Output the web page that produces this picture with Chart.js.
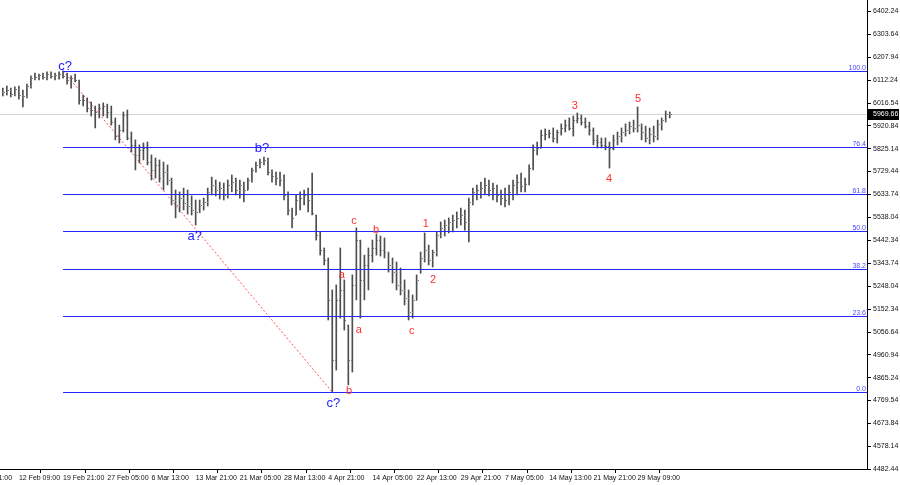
<!DOCTYPE html>
<html>
<head>
<meta charset="utf-8">
<script src="https://cdn.jsdelivr.net/npm/chart.js@4.4.1/dist/chart.umd.min.js"></script>
<style>
  html, body { margin: 0; padding: 0; background: #fff; }
</style>
</head>
<body>
<canvas id="chart" width="900" height="485"></canvas>
<script>
// H4 bars, one entry per bar (price)
const highs = [
  6079, 6088, 6079, 6084, 6088, 6071, 6096, 6130, 6142, 6138,
  6142, 6147, 6147, 6142, 6147, 6151, 6142, 6130, 6138, 6113,
  6050, 6038, 6021, 6004, 6012, 6017, 6012, 6004, 5954, 5924,
  5979, 5987, 5895, 5862, 5841, 5849, 5853, 5799, 5786, 5778,
  5769, 5757, 5702, 5652, 5644, 5660, 5652, 5627, 5610, 5610,
  5618, 5660, 5706, 5694, 5685, 5681, 5694, 5715, 5702, 5694,
  5685, 5702, 5744, 5769, 5782, 5790, 5786, 5736, 5727, 5727,
  5715, 5644, 5576, 5631, 5644, 5652, 5660, 5723, 5547, 5476,
  5409, 5367, 5233, 5254, 5409, 5275, 5086, 5296, 5493, 5442,
  5379, 5409, 5442, 5468, 5459, 5451, 5392, 5367, 5350, 5325,
  5275, 5233, 5212, 5296, 5392, 5472, 5421, 5400, 5476, 5518,
  5526, 5535, 5547, 5560, 5576, 5568, 5618, 5660, 5673, 5685,
  5702, 5694, 5681, 5673, 5652, 5660, 5673, 5694, 5715, 5723,
  5702, 5757, 5841, 5853, 5903, 5908, 5903, 5912, 5903, 5929,
  5945, 5954, 5962, 5975, 5966, 5954, 5937, 5912, 5882, 5870,
  5870, 5853, 5882, 5895, 5912, 5929, 5937, 5945, 6000, 5929,
  5920, 5912, 5920, 5945, 5954, 5983, 5979
];
const lows = [
  6046, 6050, 6042, 6046, 6033, 6000, 6038, 6079, 6113, 6113,
  6117, 6113, 6121, 6113, 6117, 6121, 6096, 6079, 6105, 6012,
  6004, 5979, 5962, 5912, 5954, 5962, 5954, 5924, 5862, 5849,
  5895, 5862, 5811, 5736, 5765, 5778, 5757, 5694, 5702, 5685,
  5652, 5673, 5589, 5535, 5560, 5568, 5551, 5547, 5505, 5556,
  5568, 5585, 5631, 5627, 5614, 5610, 5618, 5644, 5631, 5618,
  5602, 5652, 5685, 5727, 5744, 5757, 5715, 5685, 5673, 5669,
  5610, 5547, 5493, 5547, 5568, 5589, 5560, 5547, 5442, 5379,
  5338, 5107, 4805, 4897, 5115, 5065, 4835, 4889, 5191, 5115,
  5191, 5233, 5350, 5379, 5375, 5367, 5308, 5262, 5233, 5212,
  5170, 5107, 5115, 5191, 5304, 5350, 5338, 5329, 5375, 5451,
  5459, 5472, 5476, 5493, 5505, 5484, 5434, 5589, 5610, 5618,
  5631, 5627, 5610, 5602, 5589, 5581, 5589, 5610, 5631, 5644,
  5644, 5673, 5736, 5799, 5828, 5862, 5870, 5853, 5849, 5882,
  5895, 5903, 5878, 5933, 5924, 5912, 5882, 5841, 5828, 5828,
  5820, 5744, 5820, 5841, 5853, 5878, 5887, 5895, 5895, 5862,
  5853, 5845, 5853, 5862, 5903, 5937, 5954
];
const closes = [
  6063, 6071, 6054, 6075, 6050, 6046, 6088, 6121, 6126, 6134,
  6126, 6138, 6130, 6134, 6138, 6130, 6113, 6121, 6113, 6029,
  6029, 5996, 5987, 5979, 5996, 6004, 5979, 5937, 5878, 5903,
  5966, 5870, 5841, 5799, 5820, 5828, 5769, 5736, 5757, 5702,
  5727, 5694, 5610, 5589, 5618, 5597, 5585, 5568, 5560, 5589,
  5602, 5644, 5673, 5652, 5660, 5631, 5673, 5685, 5652, 5673,
  5652, 5694, 5736, 5757, 5769, 5778, 5727, 5711, 5702, 5694,
  5631, 5568, 5535, 5610, 5618, 5631, 5610, 5556, 5463, 5400,
  5359, 5191, 4939, 5191, 5233, 5107, 4939, 5254, 5442, 5275,
  5338, 5379, 5409, 5442, 5400, 5392, 5338, 5308, 5254, 5233,
  5199, 5141, 5191, 5275, 5367, 5400, 5359, 5392, 5463, 5493,
  5505, 5518, 5526, 5535, 5547, 5518, 5602, 5644, 5652, 5660,
  5673, 5652, 5660, 5631, 5618, 5610, 5644, 5673, 5685, 5669,
  5677, 5744, 5820, 5828, 5882, 5887, 5891, 5870, 5895, 5912,
  5924, 5912, 5945, 5954, 5937, 5920, 5903, 5862, 5853, 5841,
  5836, 5828, 5862, 5878, 5895, 5903, 5920, 5912, 5924, 5895,
  5870, 5887, 5878, 5929, 5945, 5970, 5969.66
];

// time axis: label text and the bar it sits on
const timeLabels = ['4 Feb 21:00', '12 Feb 09:00', '19 Feb 21:00', '27 Feb 05:00', '6 Mar 13:00',
  '13 Mar 21:00', '21 Mar 05:00', '28 Mar 13:00', '4 Apr 21:00', '14 Apr 05:00', '22 Apr 13:00',
  '29 Apr 21:00', '7 May 05:00', '14 May 13:00', '21 May 21:00', '29 May 09:00'];
const timeBars = [-7, 4, 15, 26, 37, 48, 59, 70, 81, 92, 103, 114, 125, 136, 147, 158];

const priceTicks = [6402.24, 6303.64, 6207.94, 6112.24, 6016.54, 5920.84, 5825.14, 5729.44,
  5633.74, 5538.04, 5442.34, 5343.74, 5248.04, 5152.34, 5056.64, 4960.94, 4865.24, 4769.54,
  4673.84, 4578.14, 4482.44];
const priceMin = 4482.44;
const priceMax = 6448.35;

// fibonacci retracement drawn from the c? top to the c? bottom
const fibRatios = [0, 23.6, 38.2, 50, 61.8, 76.4, 100];
const fibHigh = 6151;
const fibLow = 4805;
const fibStartBar = 15;

// red dotted line c? -> c?
const trendBars = [15, 82];
const trendPrices = [6151, 4805];

// wave marks: text, bar, price, colour
const waveText   = ['c?', 'a?', 'b?', 'c?', 'a', 'b', 'c', 'a', 'b', 'c', '1', '2', '3', '4', '5'];
const waveBars   = [15.5, 47.8, 64.5, 82.3, 84.4, 86.2, 87.4, 88.6, 92.9, 101.8, 105.3, 107.1, 142.4, 150.9, 158.1];
const wavePrices = [6172, 5459, 5828, 4757, 5296, 4809, 5522, 5065, 5484, 5061, 5509, 5275, 6004, 5698, 6033];
const waveBlue   = [true, true, true, true, false, false, false, false, false, false, false, false, false, false, false];

const barColor = '#4e4e4e';
const axisFont = "'Liberation Sans', Arial, sans-serif";

const overlay = {
  id: 'overlay',
  beforeDatasetsDraw(chart) {
    const { ctx, chartArea: a, scales: { y } } = chart;
    const py = Math.round(y.getPixelForValue(closes[closes.length - 1])) + 0.5;
    ctx.save();
    ctx.strokeStyle = '#d4d4d4';
    ctx.lineWidth = 1;
    ctx.beginPath();
    ctx.moveTo(a.left, py);
    ctx.lineTo(a.right, py);
    ctx.stroke();
    ctx.restore();
  },
  afterDatasetsDraw(chart) {
    const { ctx, chartArea: a, scales: { x, y } } = chart;
    ctx.save();

    // open / close ticks
    ctx.strokeStyle = '#7a7a7a';
    ctx.lineWidth = 1;
    ctx.beginPath();
    closes.forEach((c, i) => {
      const px = Math.round(x.getPixelForValue(i));
      const o = Math.min(highs[i], Math.max(lows[i], i ? closes[i - 1] : c));
      const oy = Math.round(y.getPixelForValue(o)) + 0.5;
      const cy = Math.round(y.getPixelForValue(c)) + 0.5;
      ctx.moveTo(px - 1, oy); ctx.lineTo(px, oy);
      ctx.moveTo(px + 1, cy); ctx.lineTo(px + 2, cy);
    });
    ctx.stroke();

    // fibo levels
    const fx = x.getPixelForValue(fibStartBar);
    ctx.font = '7px ' + axisFont;
    ctx.textAlign = 'right';
    ctx.textBaseline = 'bottom';
    fibRatios.forEach(r => {
      const level = fibLow + r / 100 * (fibHigh - fibLow);
      const py = Math.round(y.getPixelForValue(level)) + 0.5;
      ctx.strokeStyle = '#2626ff';
      ctx.beginPath();
      ctx.moveTo(fx, py);
      ctx.lineTo(a.right, py);
      ctx.stroke();
      ctx.fillStyle = '#4b4bff';
      ctx.fillText(r.toFixed(1), a.right - 1, py);
    });

    // wave labels
    ctx.textAlign = 'center';
    ctx.textBaseline = 'middle';
    waveText.forEach((t, i) => {
      ctx.font = waveBlue[i] ? '13px Liberation Sans, Arial' : '11px Liberation Sans, Arial';
      ctx.fillStyle = waveBlue[i] ? '#1c1cff' : '#ff3030';
      ctx.fillText(t, x.getPixelForValue(waveBars[i]), y.getPixelForValue(wavePrices[i]));
    });

    // last price box on the axis
    const last = closes[closes.length - 1];
    const ly = Math.round(y.getPixelForValue(last));
    ctx.fillStyle = '#000';
    ctx.fillRect(a.right + 1, ly - 5, 31, 11);
    ctx.fillStyle = '#fff';
    ctx.font = '7px ' + axisFont;
    ctx.textAlign = 'left';
    ctx.textBaseline = 'middle';
    ctx.fillText(last.toFixed(2), a.right + 6, ly + 0.5);

    ctx.restore();
  }
};

const noPad = s => { s.paddingLeft = 0; s.paddingRight = 0; s.paddingTop = 0; s.paddingBottom = 0; };

new Chart(document.getElementById('chart'), {
  type: 'bar',
  data: {
    datasets: [{
      type: 'bar',
      data: highs.map((h, i) => ({ x: i, y: [lows[i], h] })),
      backgroundColor: barColor,
      borderWidth: 0,
      barThickness: 1,
      grouped: false
    }, {
      type: 'line',
      data: trendBars.map((b, i) => ({ x: b, y: trendPrices[i] })),
      borderColor: '#ff5050',
      borderWidth: 1,
      borderDash: [2, 2],
      pointRadius: 0,
      fill: false
    }]
  },
  options: {
    responsive: false,
    animation: false,
    layout: { padding: 0 },
    plugins: { legend: { display: false }, tooltip: { enabled: false } },
    scales: {
      x: {
        type: 'linear',
        position: 'bottom',
        min: -0.7,
        max: 215.1,
        offset: false,
        afterBuildTicks: s => { s.ticks = timeBars.map(v => ({ value: v })); },
        afterFit: s => { s.height = 16; noPad(s); },
        grid: { drawOnChartArea: false, drawTicks: true, tickLength: 4, tickColor: '#000' },
        border: { color: '#000', width: 1 },
        ticks: {
          autoSkip: false,
          maxRotation: 0,
          align: 'start',
          padding: 1,
          color: '#111',
          font: { family: axisFont, size: 7 },
          callback: (v, i) => timeLabels[i]
        }
      },
      y: {
        type: 'linear',
        position: 'right',
        min: priceMin,
        max: priceMax,
        afterBuildTicks: s => { s.ticks = priceTicks.map(v => ({ value: v })); },
        afterFit: s => { s.width = 33; noPad(s); },
        grid: { drawOnChartArea: false, drawTicks: true, tickLength: 4, tickColor: '#000' },
        border: { color: '#000', width: 1 },
        ticks: {
          padding: 2,
          color: '#111',
          font: { family: axisFont, size: 7 },
          callback: v => v.toFixed(2)
        }
      }
    }
  },
  plugins: [overlay]
});
</script>
</body>
</html>
